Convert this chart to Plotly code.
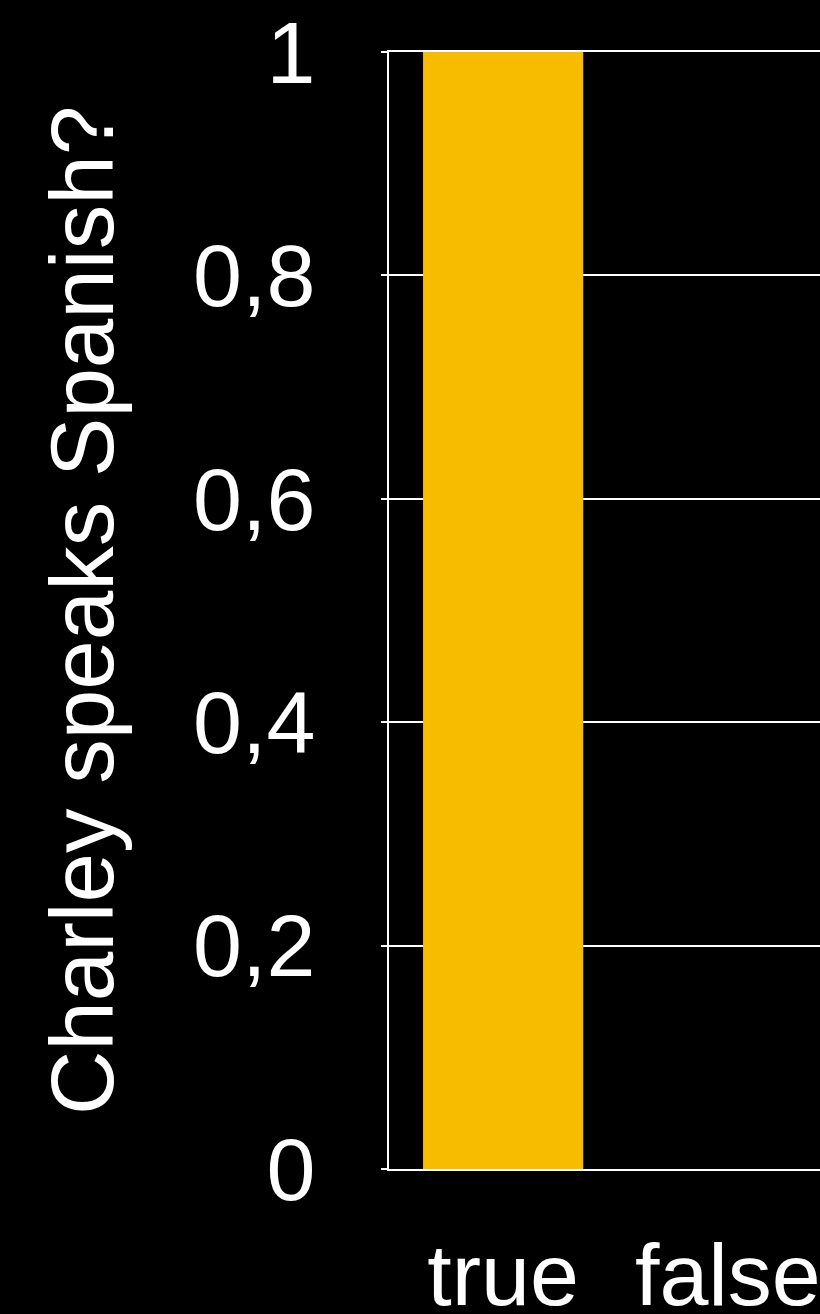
import plotly.graph_objects as go

categories = ["true", "false"]
values = [1, 0]
y_tick_vals = [0, 0.2, 0.4, 0.6, 0.8, 1]
y_title = "Charley speaks Spanish?"

FONT = "Liberation Sans, Arial, Helvetica, sans-serif"

fig = go.Figure(
    go.Bar(
        x=categories,
        y=values,
        marker=dict(color="#f7bb00", line=dict(width=0)),
    )
)

fig.update_layout(
    width=820,
    height=1314,
    paper_bgcolor="black",
    plot_bgcolor="black",
    margin=dict(l=389, r=0, t=52, b=145, autoexpand=False),
    bargap=0.287,
    separators=",.",
    showlegend=False,
    font=dict(family=FONT, color="white"),
)

fig.update_xaxes(
    type="category",
    range=[-0.508, 1.41],
    showgrid=False,
    showline=True,
    mirror=True,
    linecolor="white",
    linewidth=2,
    zeroline=False,
    ticks="",
    tickfont=dict(size=88, color="white", family=FONT),
    ticklabelstandoff=28,
    automargin=False,
)

fig.update_yaxes(
    range=[0, 1],
    tickvals=y_tick_vals,
    showgrid=True,
    gridcolor="white",
    gridwidth=2,
    zeroline=False,
    showline=True,
    linecolor="white",
    linewidth=2,
    ticks="outside",
    ticklen=6,
    tickwidth=2,
    tickcolor="white",
    tickfont=dict(size=88, color="white", family=FONT),
    ticklabelstandoff=48,
    title=dict(text=y_title, font=dict(size=89, color="white", family=FONT), standoff=50),
    automargin=False,
)

fig.write_html(
    "out.html",
    config={"displayModeBar": False},
    post_script="document.body.style.margin='0';document.body.style.background='black';document.documentElement.style.overflow='hidden';",
)
